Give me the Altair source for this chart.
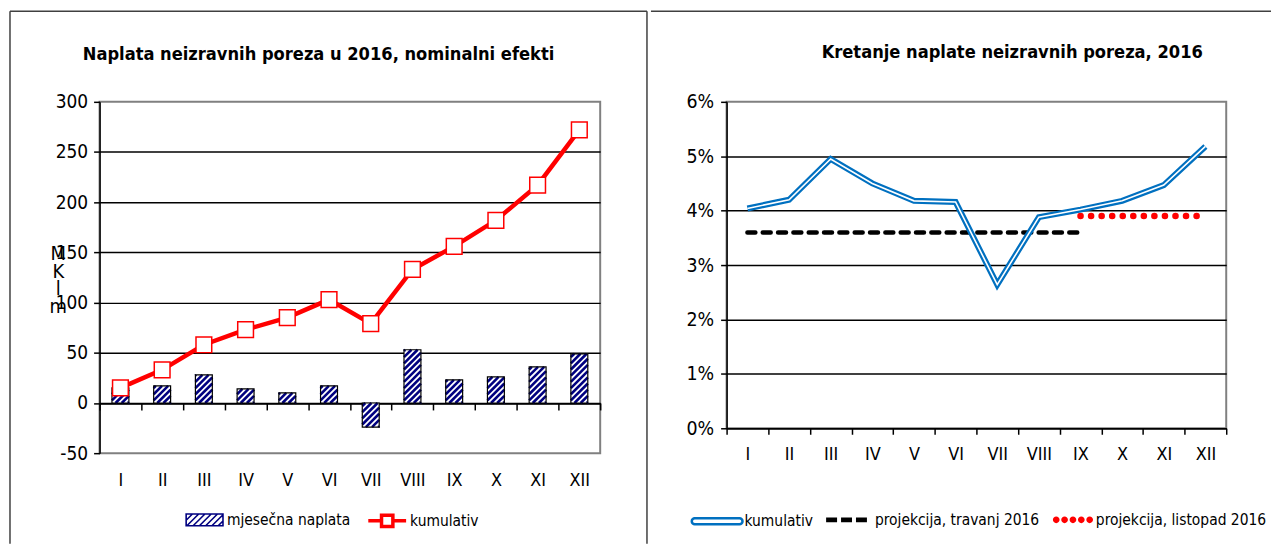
import json
import altair as alt
import pandas as pd

# ---------------- data ----------------
MONTHS = ["I", "II", "III", "IV", "V", "VI", "VII", "VIII", "IX", "X", "XI", "XII"]
MONTH_NO = [1, 2, 3, 4, 5, 6, 7, 8, 9, 10, 11, 12]
MONTHLY = [15, 17, 28, 14, 10, 17, -24, 53, 23, 26, 36, 49]
CUMULATIVE = [15, 33, 58, 73, 85, 103, 79, 133, 156, 182, 217, 272]
SHARE = [0.0404, 0.0420, 0.0495, 0.0450, 0.0418, 0.0416, 0.0264, 0.0388, 0.0402, 0.0418, 0.0447, 0.0518]
APR_NO = [1, 2, 3, 4, 5, 6, 7, 8, 9]
APR_SHARE = [0.036, 0.036, 0.036, 0.036, 0.036, 0.036, 0.036, 0.036, 0.036]
OCT_NO = [9, 10, 11, 12]
OCT_SHARE = [0.039, 0.039, 0.039, 0.039]
LEFT_TICKS = [-50, 0, 50, 100, 150, 200, 250, 300]
RIGHT_TICKS = [0, 0.01, 0.02, 0.03, 0.04, 0.05, 0.06]
LEFT_TITLE = "Naplata neizravnih poreza u 2016, nominalni efekti"
RIGHT_TITLE = "Kretanje naplate neizravnih poreza,  2016"
UNIT_LINES = ["M", "K", "l", "m"]
BAR_NAME = "mjesečna naplata"
KUM_NAME = "kumulativ"
APR_NAME = "projekcija, travanj 2016"
OCT_NAME = "projekcija, listopad 2016"

# ---------------- style ----------------
FONT = "Liberation Sans Narrow, Arial Narrow, DejaVu Sans Condensed, Liberation Sans, sans-serif"
NAVY = "#000080"
RED = "#FF0000"
BLUE = "#0070C0"
FRAME = "#404040"
LEG_FS = 15.5

LW, LH = 503, 353
RW, RH = 502, 328
KX = LW / 12.0
KY = LH / 350.0
BAR_PX = 17.0
HW = BAR_PX / 2.0 / KX
P = 6.2


def hatch_path(h=0.32, step=0.34):
    parts = [f"M-1,{-h}L1,{-h}L1,{h}L-1,{h}Z"]
    x0 = -1 - 2 * h
    while x0 < 1:
        xa, ya = x0, h
        xb, yb = x0 + 2 * h, -h
        if xa < -1:
            ya = h - (-1 - xa)
            xa = -1
        if xb > 1:
            yb = -h + (xb - 1)
            xb = 1
        if xb > xa:
            parts.append(f"M{xa:.3f},{ya:.3f}L{xb:.3f},{yb:.3f}")
        x0 += step
    return "".join(parts)


def rect_path(a, b, h):
    return f"M{a},{-h}L{b},{-h}L{b},{h}L{a},{h}Z"


def circle_path(cx, r):
    return f"M{cx - r:.3f},0A{r},{r} 0 1,0 {cx + r:.3f},0A{r},{r} 0 1,0 {cx - r:.3f},0Z"


RED_PATH = "M-1,0L-0.3,0M0.3,0L1,0M-0.3,-0.3L0.3,-0.3L0.3,0.3L-0.3,0.3Z"
BLUE_PATH = "M-0.9,-0.12L0.9,-0.12A0.12,0.12 0 0 1 0.9,0.12L-0.9,0.12A0.12,0.12 0 0 1 -0.9,-0.12Z"
DASH_PATH = rect_path(-1, -0.45, 0.12) + rect_path(-0.25, 0.3, 0.12) + rect_path(0.5, 1.05, 0.12)
DOT_PATH = "".join(circle_path(cx, 0.16) for cx in [-0.8, -0.4, 0.0, 0.4, 0.8])

label_expr = json.dumps(MONTHS) + "[round(datum.value) - 1]"
xs = alt.Scale(domain=[0.5, 12.5], nice=False, zero=False)
tick_vals = [i + 0.5 for i in range(13)]


def frame_rule(x, x2, y, y2):
    return alt.Chart(alt.Data(values=[{"k": 1}])).mark_rule(
        color=FRAME, strokeWidth=1.5
    ).encode(x=alt.value(x), x2=alt.value(x2), y=alt.value(y), y2=alt.value(y2))


def title_text(text, x, y):
    return alt.Chart(alt.Data(values=[{"t": text}])).mark_text(
        font=FONT, fontSize=18.2, fontWeight="bold", color="black", align="center",
        baseline="alphabetic"
    ).encode(x=alt.value(x), y=alt.value(y), text="t:N")


def legend(x, y, sym, size, sw, offset, fillc=None, strokec=None):
    kw = dict(orient="none", legendX=x, legendY=y, title=None, symbolType=sym,
              symbolSize=size, symbolStrokeWidth=sw, labelOffset=offset,
              labelFontSize=LEG_FS, padding=0, symbolOffset=0, labelLimit=400)
    if fillc:
        kw["symbolFillColor"] = fillc
    if strokec:
        kw["symbolStrokeColor"] = strokec
    return alt.Legend(**kw)


def series_color(name, colour, leg):
    return alt.Color("series:N", scale=alt.Scale(domain=[name], range=[colour]), legend=leg)


# ---------------- left chart ----------------
left_df = pd.DataFrame({"no": MONTH_NO, "month": MONTHS, "monthly": MONTHLY, "cum": CUMULATIVE})
ysl = alt.Scale(domain=[-50, 300], nice=False, zero=False)
yaxis_left = alt.Axis(
    values=LEFT_TICKS, tickSize=6, labelPadding=6, grid=True, labelFontSize=19,
    labelExpr="'' + datum.value",
    gridColor={"condition": {"test": "datum.value >= 300 || datum.value <= -50", "value": "transparent"},
               "value": "black"},
    title=UNIT_LINES, titleAngle=0, titleX=-42, titleY=142, titleAlign="center",
    titleBaseline="top", titleFontSize=20, titleFontWeight="normal", titleLineHeight=18,
)
label_axis_left = alt.Axis(orient="bottom", values=MONTH_NO, labelExpr=label_expr, ticks=False,
                           tickSize=0, domain=False, grid=False, labelPadding=18, title=None,
                           labelOverlap=False, labelFlush=False, labelFontSize=18)
tick_axis_left = alt.Axis(orient="bottom", values=tick_vals, labels=False, ticks=True, tickSize=7,
                          domain=True, grid=False, offset=-50 * KY, title=None)

bar_base = alt.Chart(left_df).transform_calculate(
    xl=f"datum.no - {HW}", xr=f"datum.no + {HW}", series=json.dumps(BAR_NAME)
)
bars_fill = bar_base.mark_rect().encode(
    x=alt.X("xl:Q", scale=xs, axis=label_axis_left),
    x2="xr:Q",
    y=alt.Y("monthly:Q", scale=ysl, axis=yaxis_left),
    y2=alt.datum(0),
    color=series_color(BAR_NAME, "white",
                       legend(86, 400.5, hatch_path(), 1369, 1.6, 3, strokec=NAVY)),
)

hatch = alt.Chart(left_df).transform_calculate(
    lo="min(0, datum.monthly)",
    hh=f"abs(datum.monthly) * {KY}",
).transform_calculate(
    ks=f"sequence(0, ceil((datum.hh + {BAR_PX}) / {P}) + 1)"
).transform_flatten(["ks"]).transform_calculate(
    c=f"datum.ks * {P} - {BAR_PX} + 1"
).transform_calculate(
    u0="max(0, -datum.c)",
    u1=f"min({BAR_PX}, datum.hh - datum.c)",
).transform_filter("datum.u1 > datum.u0 + 0.4").transform_calculate(
    hx1=f"datum.no - {HW} + datum.u0 / {KX}",
    hx2=f"datum.no - {HW} + datum.u1 / {KX}",
    hy1=f"datum.lo + (datum.u0 + datum.c) / {KY}",
    hy2=f"datum.lo + (datum.u1 + datum.c) / {KY}",
).mark_rule(color=NAVY, strokeWidth=2.6).encode(
    x=alt.X("hx1:Q", scale=xs, axis=None),
    x2="hx2:Q",
    y=alt.Y("hy1:Q", scale=ysl, axis=yaxis_left),
    y2="hy2:Q",
)

bars_outline = bar_base.mark_rect(fillOpacity=0, stroke="black", strokeWidth=1.2).encode(
    x=alt.X("xl:Q", scale=xs, axis=tick_axis_left),
    x2="xr:Q",
    y=alt.Y("monthly:Q", scale=ysl, axis=yaxis_left),
    y2=alt.datum(0),
)

cum_line = alt.Chart(left_df).transform_calculate(series=json.dumps(KUM_NAME)).mark_line(
    strokeWidth=4.5).encode(
    x=alt.X("no:Q", scale=xs, axis=None),
    y=alt.Y("cum:Q", scale=ysl, axis=yaxis_left),
    color=series_color(KUM_NAME, RED, legend(268, 400, RED_PATH, 1444, 3.5, 2, fillc="white")),
)
cum_pts = alt.Chart(left_df).mark_point(shape="square", size=250, filled=True, fill="white",
                                        stroke=RED, strokeWidth=1.5, opacity=1).encode(
    x=alt.X("no:Q", scale=xs, axis=None),
    y=alt.Y("cum:Q", scale=ysl, axis=yaxis_left),
)

left = alt.layer(
    bars_fill, hatch, bars_outline, cum_line, cum_pts,
    frame_rule(-90, 550, -91, -91), frame_rule(-90, -90, -91, 444), frame_rule(550, 550, -91, 444),
    title_text(LEFT_TITLE, 220, -42),
).resolve_scale(color="independent").resolve_axis(x="independent").properties(
    width=LW, height=LH,
)

# ---------------- right chart ----------------
right_df = pd.DataFrame({"no": MONTH_NO, "month": MONTHS, "share": SHARE})
apr_df = pd.DataFrame({"no": APR_NO, "share": APR_SHARE})
oct_df = pd.DataFrame({"no": OCT_NO, "share": OCT_SHARE})
ysr = alt.Scale(domain=[0, 0.06], nice=False, zero=False)
yaxis_right = alt.Axis(
    values=RIGHT_TICKS, format=".0%", tickSize=6, labelPadding=7, grid=True, labelFontSize=19.5,
    gridColor={"condition": {"test": "datum.value >= 0.0599", "value": "transparent"}, "value": "black"},
    title=None,
)
label_axis_right = alt.Axis(orient="bottom", values=MONTH_NO, labelExpr=label_expr, ticks=False,
                            tickSize=0, domain=False, grid=False, labelPadding=17, title=None,
                            labelOverlap=False, labelFlush=False, labelFontSize=18)
tick_axis_right = alt.Axis(orient="bottom", values=tick_vals, labels=False, ticks=True, tickSize=6,
                           domain=True, grid=False, title=None)

apr_line = alt.Chart(apr_df).mark_line(
    color="black", strokeWidth=4.5, strokeDash=[8, 7.4], strokeCap="round").encode(
    x=alt.X("no:Q", scale=xs, axis=tick_axis_right),
    y=alt.Y("share:Q", scale=ysr, axis=yaxis_right),
)
oct_line = alt.Chart(oct_df).mark_line(
    color=RED, strokeWidth=6.5, strokeDash=[0.1, 10.5], strokeCap="round").encode(
    x=alt.X("no:Q", scale=xs, axis=None),
    y=alt.Y("share:Q", scale=ysr, axis=yaxis_right),
)


def legend_only(df, name, colour, path, size, lx, ly, offset):
    # legend entry for a projection series (nothing is drawn: rows are filtered out)
    return alt.Chart(df).transform_calculate(series=json.dumps(name)).transform_filter(
        "false").mark_point(shape=path, size=size, filled=True, opacity=1).encode(
        x=alt.X("no:Q", scale=xs, axis=None),
        y=alt.Y("share:Q", scale=ysr, axis=yaxis_right),
        color=series_color(name, colour, legend(lx, ly, path, size, 0, offset)),
    )


apr_leg = legend_only(apr_df, APR_NAME, "black", DASH_PATH, 1600, 100, 400, 9)
oct_leg = legend_only(oct_df, OCT_NAME, RED, DOT_PATH, 1764, 327, 399, 2)

blue_line = alt.Chart(right_df).transform_calculate(series=json.dumps(KUM_NAME)).mark_line(
    strokeWidth=6).encode(
    x=alt.X("no:Q", scale=xs, axis=label_axis_right),
    y=alt.Y("share:Q", scale=ysr, axis=yaxis_right),
    color=series_color(KUM_NAME, BLUE, legend(-36, 395, BLUE_PATH, 2500, 2.5, 1, fillc="white")),
)
white_line = alt.Chart(right_df).mark_line(strokeWidth=1.6, color="white").encode(
    x=alt.X("no:Q", scale=xs, axis=None),
    y=alt.Y("share:Q", scale=ysr, axis=yaxis_right),
)

right = alt.layer(
    apr_line, oct_line, blue_line, white_line, apr_leg, oct_leg,
    frame_rule(-76, 547, -91, -91),
    title_text(RIGHT_TITLE, 287, -44),
).resolve_scale(color="independent").resolve_axis(x="independent").properties(
    width=RW, height=RH,
)

chart = alt.concat(left, right, columns=2, spacing=0).properties(
    align="none", padding=0, bounds="full"
).configure_view(stroke="#808080", strokeWidth=2).configure_axis(
    labelFont=FONT, labelFontSize=19, labelColor="black", domainColor="black", domainWidth=1.5,
    tickColor="black", tickWidth=1.5, gridColor="black", gridWidth=1.5, titleFont=FONT,
    titleColor="black",
).configure_legend(labelFont=FONT, labelColor="black", labelFontSize=LEG_FS)

chart.save("out.html", embed_options={"renderer": "svg", "actions": False})
